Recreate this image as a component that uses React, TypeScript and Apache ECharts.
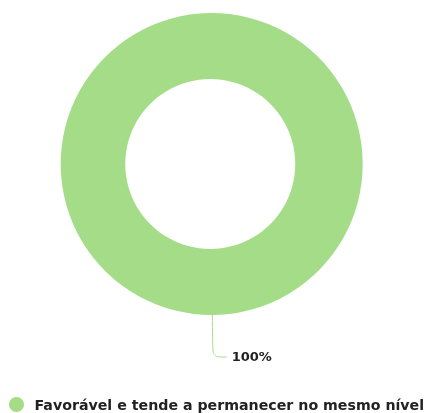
import React, { useEffect, useRef } from "react";
import * as echarts from "echarts";

const categories = ["Favorável e tende a permanecer no mesmo nível"];
const values = [100];
const colors = ["#a4dc88"];

export default function App() {
  const ref = useRef<HTMLDivElement>(null);
  useEffect(() => {
    const chart = echarts.init(ref.current!, undefined, { renderer: "svg" });
    chart.setOption({
      animation: false,
      color: colors,
      legend: {
        data: categories,
        left: 4,
        bottom: -4,
        icon: "circle",
        itemWidth: 16,
        itemHeight: 15,
        itemGap: 10,
        textStyle: {
          fontFamily: "DejaVu Sans",
          fontWeight: "bold",
          fontSize: 14.2,
          color: "#222",
          padding: [0, 0, 0, 5],
        },
      },
      series: [
        {
          type: "pie",
          center: [211, 164],
          radius: [85, 151],
          startAngle: 90.5,
          data: categories.map((c, i) => ({ name: c, value: values[i] })),
          label: {
            show: true,
            formatter: "{d}%",
            fontFamily: "DejaVu Sans",
            fontWeight: "bold",
            fontSize: 13,
            color: "#222",
          },
          labelLine: { show: true, length: 42, length2: 14, smooth: true },
          emphasis: { disabled: true },
        },
      ],
    });
    return () => chart.dispose();
  }, []);
  return (
    <div
      ref={ref}
      style={{ position: "fixed", left: 0, top: 0, width: 428, height: 413 }}
    />
  );
}
